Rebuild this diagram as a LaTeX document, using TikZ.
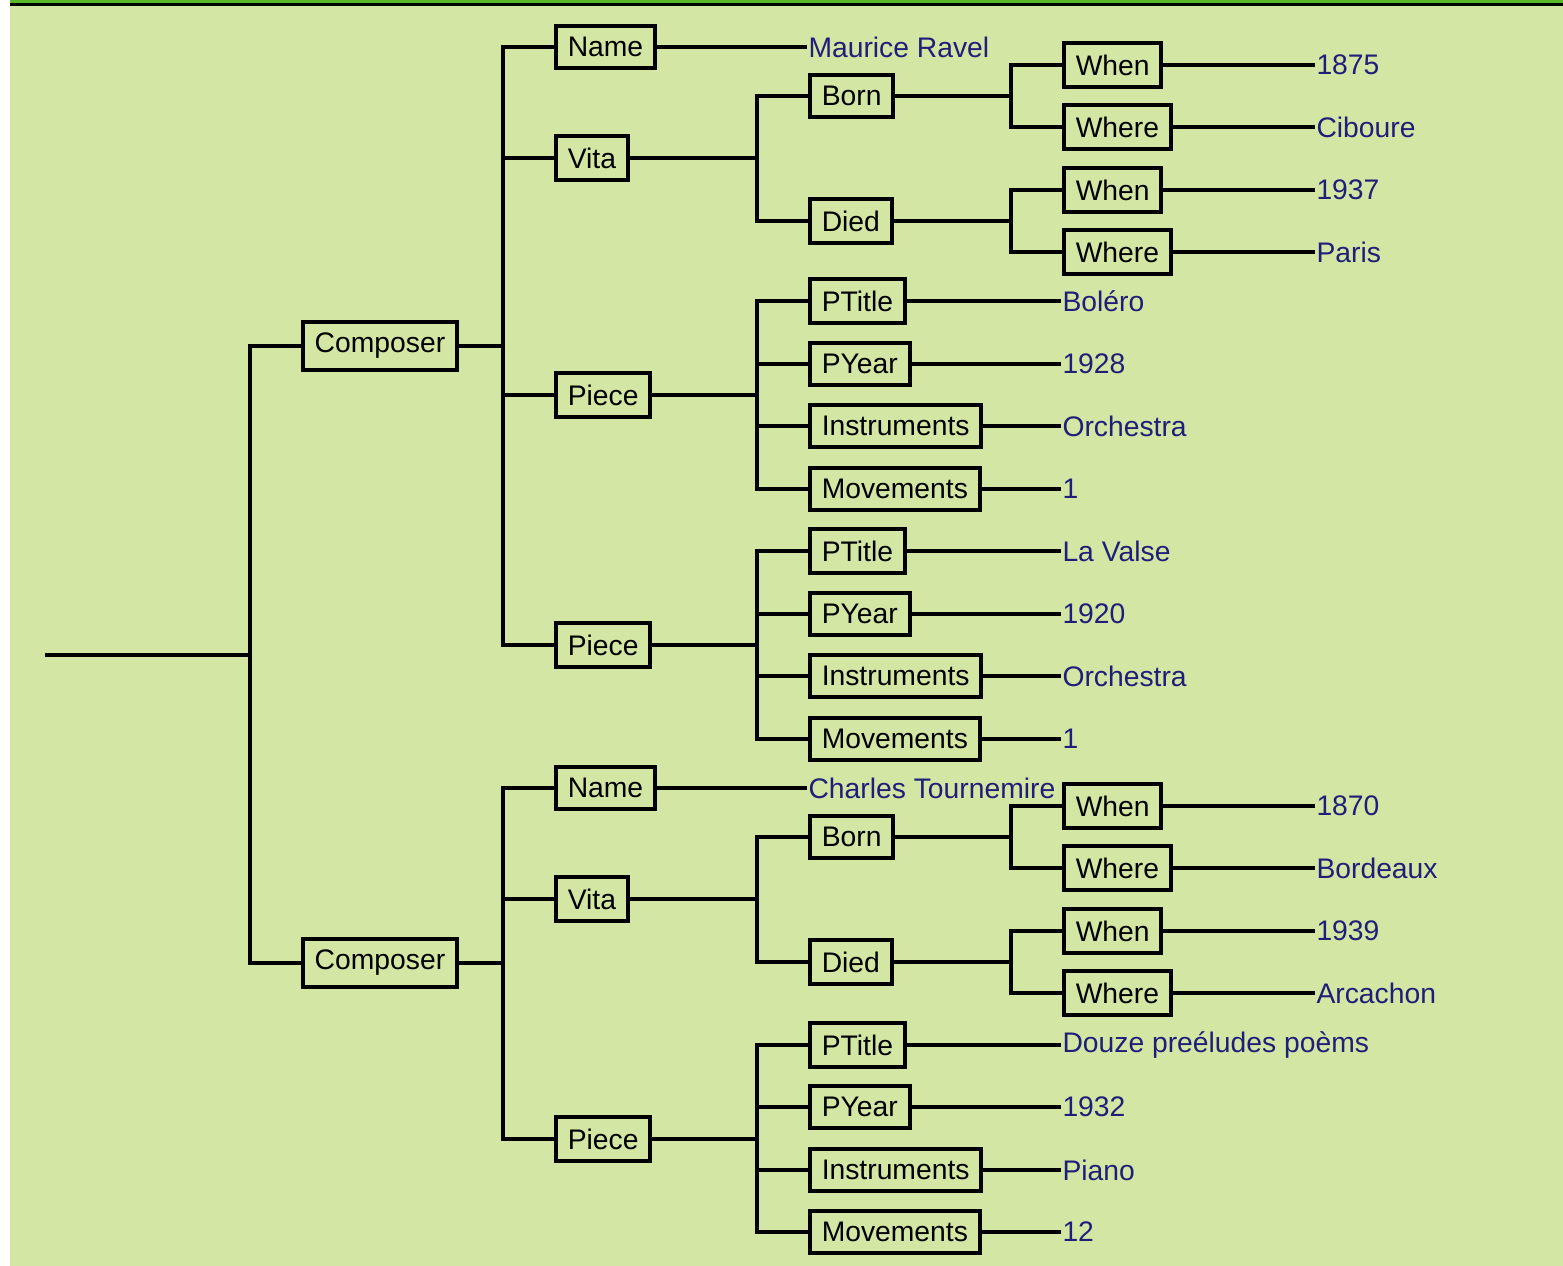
\documentclass[tikz,border=0pt]{standalone}
\usepackage{fontspec}
\setmainfont{Liberation Sans}
\definecolor{bggreen}{RGB}{211,230,163}
\definecolor{topgreen}{RGB}{88,184,40}
\definecolor{valblue}{RGB}{31,31,122}
\tikzset{
  box/.style={draw, anchor=west, inner xsep=0.235cm, inner ysep=0.225cm},
  val/.style={anchor=west, inner sep=0pt, xshift=-0.03cm, text=valblue},
}
\begin{document}
\begin{tikzpicture}[x=0.02cm, y=-0.02cm, line width=0.08cm, font=\fontsize{16.1}{19}\selectfont]
\useasboundingbox (0,0) rectangle (1563,1266);
\fill[bggreen] (10,0) rectangle (1563,1266);
\fill[topgreen] (10,0) rectangle (1563,3.3);
\fill[black] (10,3.3) rectangle (1563,6.5);
% first composer
\node[box] (c1) at (301,346) {Composer};
\node[box] (c1name) at (554,47) {Name};
\node[box] (c1vita) at (554,158) {Vita};
\node[box] (c1born) at (808,96) {Born};
\node[box] (c1bwhen) at (1062,65) {When};
\node[box] (c1bwhere) at (1062,127) {Where};
\node[box] (c1died) at (808,221) {Died};
\node[box] (c1dwhen) at (1062,190) {When};
\node[box] (c1dwhere) at (1062,252) {Where};
\node[box] (c1pa) at (554,395) {Piece};
\node[box] (c1patitle) at (808,301) {PTitle};
\node[box] (c1payear) at (808,364) {PYear};
\node[box] (c1painst) at (808,426) {Instruments};
\node[box] (c1pamov) at (808,489) {Movements};
\node[box] (c1pb) at (554,645) {Piece};
\node[box] (c1pbtitle) at (808,551) {PTitle};
\node[box] (c1pbyear) at (808,614) {PYear};
\node[box] (c1pbinst) at (808,676) {Instruments};
\node[box] (c1pbmov) at (808,739) {Movements};
\node[val] (v1name) at (808,47) {Maurice Ravel};
\node[val] (v1bwhen) at (1316,65) {1875};
\node[val] (v1bwhere) at (1316,127) {Ciboure};
\node[val] (v1dwhen) at (1316,190) {1937};
\node[val] (v1dwhere) at (1316,252) {Paris};
\node[val] (v1patitle) at (1062,301) {Boléro};
\node[val] (v1payear) at (1062,364) {1928};
\node[val] (v1painst) at (1062,426) {Orchestra};
\node[val] (v1pamov) at (1062,489) {1};
\node[val] (v1pbtitle) at (1062,551) {La Valse};
\node[val] (v1pbyear) at (1062,614) {1920};
\node[val] (v1pbinst) at (1062,676) {Orchestra};
\node[val] (v1pbmov) at (1062,739) {1};
% second composer
\node[box] (c2) at (301,963) {Composer};
\node[box] (c2name) at (554,788) {Name};
\node[box] (c2vita) at (554,899) {Vita};
\node[box] (c2born) at (808,837) {Born};
\node[box] (c2bwhen) at (1062,806) {When};
\node[box] (c2bwhere) at (1062,868) {Where};
\node[box] (c2died) at (808,962) {Died};
\node[box] (c2dwhen) at (1062,931) {When};
\node[box] (c2dwhere) at (1062,993) {Where};
\node[box] (c2pa) at (554,1139) {Piece};
\node[box] (c2patitle) at (808,1045) {PTitle};
\node[box] (c2payear) at (808,1107) {PYear};
\node[box] (c2painst) at (808,1170) {Instruments};
\node[box] (c2pamov) at (808,1232) {Movements};
\node[val] (v2name) at (808,788) {Charles Tournemire};
\node[val] (v2bwhen) at (1316,806) {1870};
\node[val] (v2bwhere) at (1316,868) {Bordeaux};
\node[val] (v2dwhen) at (1316,931) {1939};
\node[val] (v2dwhere) at (1316,993) {Arcachon};
\node[val] (v2patitle) at (1062,1045) {Douze preéludes poèms};
\node[val] (v2payear) at (1062,1107) {1932};
\node[val] (v2painst) at (1062,1170) {Piano};
\node[val] (v2pamov) at (1062,1232) {12};
% tree lines
\coordinate (root) at (45,655);
\foreach \p/\c in {root/c1, root/c2}
  \draw (\p) -| ([xshift=-1.02cm]\c.west) -- (\c.west);
\foreach \p/\c in {c1/c1name, c1/c1vita, c1/c1pa, c1/c1pb,
    c1vita/c1born, c1vita/c1died, c1born/c1bwhen, c1born/c1bwhere,
    c1died/c1dwhen, c1died/c1dwhere,
    c1pa/c1patitle, c1pa/c1payear, c1pa/c1painst, c1pa/c1pamov,
    c1pb/c1pbtitle, c1pb/c1pbyear, c1pb/c1pbinst, c1pb/c1pbmov,
    c2/c2name, c2/c2vita, c2/c2pa,
    c2vita/c2born, c2vita/c2died, c2born/c2bwhen, c2born/c2bwhere,
    c2died/c2dwhen, c2died/c2dwhere,
    c2pa/c2patitle, c2pa/c2payear, c2pa/c2painst, c2pa/c2pamov}
  \draw (\p.east) -| ([xshift=-1.02cm]\c.west) -- (\c.west);
% values
\foreach \k in {1,2}
  \foreach \s in {name, bwhen, bwhere, dwhen, dwhere, patitle, payear, painst, pamov}
    \draw (c\k\s.east) -- (v\k\s.west);
\foreach \s in {pbtitle, pbyear, pbinst, pbmov}
  \draw (c1\s.east) -- (v1\s.west);
\end{tikzpicture}
\end{document}
